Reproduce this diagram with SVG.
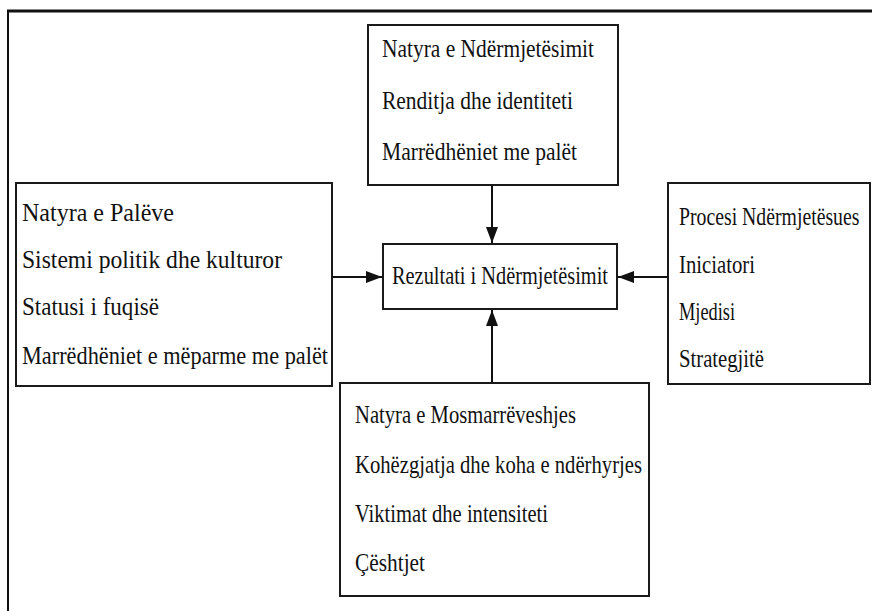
<svg xmlns="http://www.w3.org/2000/svg" width="872" height="611" viewBox="0 0 872 611">
<style>
.box{fill:#fff;stroke:#1a1a1a;stroke-width:2}
.t{font-family:"Liberation Serif","Times New Roman",serif;font-size:26px;fill:#111}
.c{stroke:#111;stroke-width:2;fill:none}
.frame{stroke:#111;fill:none}
</style>
<defs>
<marker id="ah" viewBox="0 0 16 12" refX="16" refY="6" markerWidth="16" markerHeight="12" markerUnits="userSpaceOnUse" orient="auto">
<path d="M0,0 L16,6 L0,12 Z" fill="#111"/>
</marker>
</defs>
<rect width="872" height="611" fill="#fff"/>
<g id="frame">
<line class="frame" x1="7" y1="11" x2="872" y2="11" stroke-width="3"/>
<line class="frame" x1="8" y1="10" x2="8" y2="611" stroke-width="2"/>
</g>
<g id="connectors">
<line class="c" x1="492" y1="185" x2="492" y2="243" marker-end="url(#ah)"/>
<line class="c" x1="492" y1="383" x2="492" y2="310" marker-end="url(#ah)"/>
<line class="c" x1="332" y1="277" x2="382" y2="277" marker-end="url(#ah)"/>
<line class="c" x1="668" y1="277" x2="618" y2="277" marker-end="url(#ah)"/>
</g>
<g id="top">
<rect class="box" x="368" y="25" width="250" height="160"/>
<text class="t" x="382" y="57" textLength="212" lengthAdjust="spacingAndGlyphs">Natyra e Ndërmjetësimit</text>
<text class="t" x="382" y="109" textLength="191" lengthAdjust="spacingAndGlyphs">Renditja dhe identiteti</text>
<text class="t" x="382" y="160" textLength="195" lengthAdjust="spacingAndGlyphs">Marrëdhëniet me palët</text>
</g>
<g id="left">
<rect class="box" x="16" y="183" width="316" height="203"/>
<text class="t" x="22" y="221" textLength="152" lengthAdjust="spacingAndGlyphs">Natyra e Palëve</text>
<text class="t" x="22" y="268" textLength="260" lengthAdjust="spacingAndGlyphs">Sistemi politik dhe kulturor</text>
<text class="t" x="22" y="315" textLength="137" lengthAdjust="spacingAndGlyphs">Statusi i fuqisë</text>
<text class="t" x="22" y="364" textLength="306" lengthAdjust="spacingAndGlyphs">Marrëdhëniet e mëparme me palët</text>
</g>
<g id="center">
<rect class="box" x="383" y="244" width="234" height="65"/>
<text class="t" x="392" y="284" textLength="216" lengthAdjust="spacingAndGlyphs">Rezultati i Ndërmjetësimit</text>
</g>
<g id="right">
<rect class="box" x="668" y="183" width="202" height="201"/>
<text class="t" transform="translate(679,225) scale(0.76,1)" x="0" y="0">Procesi Ndërmjetësues</text>
<text class="t" x="679" y="273" textLength="76" lengthAdjust="spacingAndGlyphs">Iniciatori</text>
<text class="t" x="679" y="320" textLength="56" lengthAdjust="spacingAndGlyphs">Mjedisi</text>
<text class="t" x="679" y="367" textLength="85" lengthAdjust="spacingAndGlyphs">Strategjitë</text>
</g>
<g id="bottom">
<rect class="box" x="340" y="383" width="309" height="213"/>
<text class="t" x="355" y="423" textLength="221" lengthAdjust="spacingAndGlyphs">Natyra e Mosmarrëveshjes</text>
<text class="t" x="355" y="473" textLength="287" lengthAdjust="spacingAndGlyphs">Kohëzgjatja dhe koha e ndërhyrjes</text>
<text class="t" x="355" y="522" textLength="193" lengthAdjust="spacingAndGlyphs">Viktimat dhe intensiteti</text>
<text class="t" x="355" y="571" textLength="70" lengthAdjust="spacingAndGlyphs">Çështjet</text>
</g>
</svg>
